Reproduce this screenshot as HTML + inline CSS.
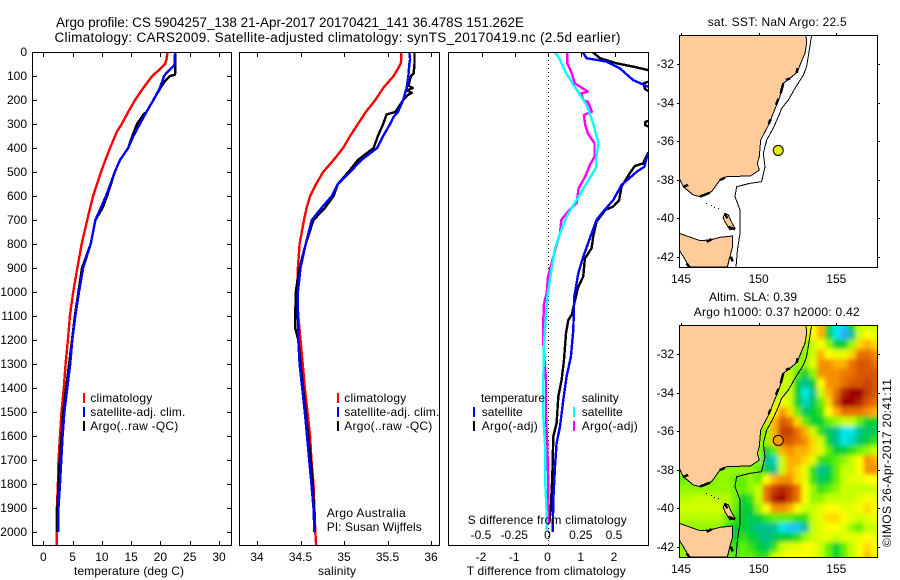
<!DOCTYPE html>
<html lang="en">
<head>
<meta charset="utf-8">
<title>Argo profile</title>
<style>
html,body{margin:0;padding:0;background:#fff;}
svg{display:block;}
text{font-family:"Liberation Sans",sans-serif;font-size:12px;fill:#000;}
</style>
</head>
<body>
<svg id="chart" xmlns="http://www.w3.org/2000/svg" width="900" height="580" viewBox="0 0 900 580">
  <defs>
    <clipPath id="clipTemp"><rect x="32" y="52" width="200" height="494"/></clipPath>
    <clipPath id="clipSal"><rect x="239" y="52" width="201" height="494"/></clipPath>
    <clipPath id="clipDiff"><rect x="448" y="52" width="201" height="494"/></clipPath>
    <clipPath id="clipMapSst"><rect x="679" y="35" width="199" height="233"/></clipPath>
    <clipPath id="clipMapSla"><rect x="679" y="325" width="199" height="233"/></clipPath>
    <filter id="slaBlur" filterUnits="userSpaceOnUse" x="640" y="290" width="260" height="290"><feGaussianBlur stdDeviation="2.5"/></filter>
  </defs>
  <g id="layer"></g>
</svg>
<script>
// ---- profile data (depth in m, temperature in deg C, salinity) ----
const depthTicks = [0,100,200,300,400,500,600,700,800,900,1000,1100,1200,1300,1400,1500,1600,1700,1800,1900,2000];
const tempTicks = [0,5,10,15,20,25,30];
const salTicks = [34,34.5,35,35.5,36];
const salTickLabels = ["34","34.5","35","35.5","36"];
const diffTTicks = [-2,-1,0,1,2];
const diffSTickLabels = ["-0.5","-0.25","0","0.25","0.5"];
const diffSTicks = [-0.5,-0.25,0,0.25,0.5];

const climDepthT = [0,30,50,70,100,150,200,250,300,330,400,450,500,600,700,800,900,1000,1100,1200,1300,1400,1500,1600,1700,1800,1900,2000,2060];
const climTemp = [21.2,21.06,20.8,20.0,18.6,17.07,15.65,14.5,13.4,12.6,11.4,10.6,9.85,8.5,7.5,6.55,5.8,5.1,4.55,4.2,3.8,3.5,3.1,2.85,2.6,2.5,2.33,2.28,2.28];
const satDepthT = [0,50,60,80,100,150,200,250,300,350,400,450,500,600,700,800,900,1000,1100,1200,1300,1400,1500,1600,1700,1800,1900,2000];
const satTemp = [22.5,22.4,22.2,21.3,20.6,19.9,18.8,17.6,16.5,15.4,14.5,13.1,12.2,10.7,8.9,8.1,6.8,6.1,5.46,4.95,4.6,4.1,3.6,3.3,3.07,2.85,2.6,2.56];
const argoDepthT = [0,90,95,100,120,150,200,250,260,300,350,400,450,500,600,650,700,800,900,1000,1100,1200,1300,1400,1500,1600,1700,1800,1900,2000];
const argoTemp = [22.5,22.5,22.45,21.6,20.8,20,18.8,17.6,17.1,16,15.2,14.5,13.1,12.2,10.9,10.1,8.9,8.1,6.6,6.0,5.4,4.9,4.4,3.9,3.4,3.15,2.8,2.6,2.4,2.35];

const climDepthS = [0,30,50,70,100,150,200,250,300,350,400,450,500,550,600,650,700,800,900,1000,1100,1200,1300,1400,1500,1600,1700,1800,1900,2000,2060];
const climSal = [35.66,35.66,35.65,35.62,35.57,35.45,35.36,35.25,35.16,35.07,34.99,34.88,34.76,34.68,34.61,34.57,34.54,34.49,34.47,34.46,34.475,34.5,34.525,34.55,34.58,34.61,34.625,34.65,34.66,34.67,34.68];
const satDepthS = [0,30,50,100,150,200,250,270,300,350,400,450,500,550,600,650,700,800,900,1000,1100,1200,1300,1400,1500,1600,1700,1800,1900,2000];
const satSal = [35.75,35.76,35.75,35.74,35.72,35.68,35.62,35.57,35.53,35.45,35.38,35.2,35.07,34.93,34.86,34.74,34.63,34.56,34.5,34.47,34.47,34.475,34.49,34.52,34.55,34.575,34.6,34.625,34.65,34.66];
const argoDepthS = [0,50,90,100,140,150,160,170,180,200,250,260,300,350,400,450,500,550,600,650,700,800,900,1000,1100,1150,1200,1300,1400,1500,1600,1700,1800,1900,2000];
const argoSal = [35.81,35.81,35.8,35.77,35.74,35.79,35.72,35.78,35.73,35.68,35.59,35.49,35.45,35.39,35.34,35.16,35.05,34.93,34.88,34.78,34.65,34.56,34.49,34.445,34.44,34.44,34.475,34.5,34.53,34.56,34.59,34.62,34.64,34.655,34.665];

const diffSatDepthT = [0,26,40,68,117,144,200,300,400,422,478,500,554,617,665,700,776,853,922,1019,1158,1269,1352,1450,1561,1630,1727,1866,2000];
const diffSatT = [1.04,1.16,1.76,2.16,2.56,3.0,3.6,3.9,3.2,3.0,2.9,2.66,2.21,1.96,1.66,1.46,1.26,1.06,0.91,0.79,0.76,0.69,0.56,0.46,0.36,0.26,0.21,0.16,0.14];
const diffArgoDepthT = [0,26,47,61,75,100,122,130,145,155,165,250,285,292,305,312,380,422,464,475,505,561,617,644,658,707,769,818,860,936,978,1096,1117,1172,1283,1366,1436,1547,1602,1769,1908,1964];
const diffArgoT = [1.34,1.56,2.06,2.56,3.0,3.3,3.05,2.88,2.9,2.92,3.05,3.5,3.05,2.92,2.92,3.05,3.4,3.0,2.86,2.61,2.46,2.21,2.14,1.96,1.73,1.46,1.36,1.31,1.11,1.06,0.91,0.71,0.61,0.54,0.48,0.41,0.31,0.26,0.16,0.13,0.08,0.04];
const diffSatDepthS = [0,26,82,144,221,297,380,450,478,547,630,686,755,825,894,1019,1089,1214,1366,1519,1658,1797,1922,1992];
const diffSatS = [0.05,0.085,0.13,0.2,0.29,0.34,0.38,0.36,0.365,0.29,0.2,0.14,0.09,0.05,0.03,-0.005,-0.015,-0.03,-0.035,-0.035,-0.02,-0.02,-0.01,-0.01];
const diffArgoDepthS = [0,47,89,130,165,172,200,207,249,262,304,339,380,436,471,519,568,630,665,700,755,853,936,1005,1047,1117,1214,1366,1519,1644,1797,1922,1964];
const diffArgoS = [0.145,0.145,0.18,0.2,0.3,0.25,0.265,0.3,0.33,0.27,0.28,0.3,0.35,0.35,0.315,0.28,0.23,0.215,0.15,0.1,0.09,0.04,0,-0.01,-0.03,-0.035,-0.035,-0.015,-0.015,-0.005,0.0025,0.0025,0.0025];

// ---- map data (lon, lat) ----
const mapLonTicks = [145,150,155];
const mapLatTicks = [-32,-34,-36,-38,-40,-42];
const floatLon = 151.262;
const floatLat = -36.478;
const mainlandCoast = [[153.05,-30.51],[153.09,-30.93],[152.98,-31.45],[152.66,-32.05],[152.51,-32.40],[152.02,-32.74],[151.59,-33.0],[151.37,-33.69],[151.16,-34.12],[150.94,-34.55],[150.69,-35.07],[150.30,-35.68],[150.13,-35.94],[150.04,-36.80],[149.91,-37.15],[150.04,-37.49],[149.48,-37.80],[147.94,-37.84],[147.51,-38.01],[146.97,-38.61],[146.22,-38.87],[145.79,-38.79],[145.15,-38.36],[144.89,-37.92],[144.89,-30.51]];
const tasmaniaCoast = [[144.89,-40.77],[145.79,-41.03],[146.22,-41.15],[146.87,-41.12],[147.51,-40.98],[148.33,-40.91],[148.33,-41.46],[148.15,-41.98],[147.98,-42.52],[145.54,-42.52],[145.15,-41.98],[144.89,-41.64]];
const flindersCoast = [[147.83,-39.74],[148.05,-39.82],[148.26,-40.2],[148.48,-40.51],[148.15,-40.60],[147.85,-40.2],[147.72,-39.95]];
const isobath = [[153.41,-30.51],[153.26,-31.27],[153.09,-32.14],[152.88,-32.57],[152.34,-33.26],[151.91,-33.87],[151.48,-34.30],[151.27,-34.73],[150.94,-35.33],[150.52,-35.94],[150.30,-36.63],[150.41,-37.32],[150.19,-38.10],[149.44,-38.18],[148.58,-38.36],[148.48,-38.87],[148.80,-39.56],[148.80,-40.77],[148.63,-41.64],[148.54,-42.52]];
const coastThick = [[[151.59,-33.0],[151.42,-33.52]],[[151.27,-33.81],[151.12,-34.12]],[[152.51,-32.22],[152.45,-32.45]],[[152.02,-32.74],[151.76,-32.83]],[[150.77,-34.87],[150.64,-35.11]],[[147.51,-38.01],[147.83,-37.89]],[[146.22,-38.87],[146.87,-38.67]],[[145.15,-38.36],[145.47,-38.27]],[[146.65,-41.21],[146.97,-41.08]],[[148.22,-41.98],[148.33,-42.24]],[[148.05,-40.43],[148.48,-40.57]],[[147.83,-39.74],[147.98,-40.0]],[[145.36,-42.33],[145.54,-42.52]]];
const bassIslands = [[146.6,-39.2],[146.9,-39.3],[147.1,-39.4],[147.4,-39.45]];

// ---- sea level anomaly heat map (colour index 0..10) ----
const slaLon0 = 145;
const slaLat0 = -30.5;
const slaStep = 0.5;
const slaGrid = [
[5,5,5,5,5,5,5,5,5,5,5,5,5,5,5,5,5,6,7,3,1,0.5,3,5,5,5],
[5,5,5,5,5,5,5,5,5,5,5,5,5,5,5,5,5,6,7,3,1,0,2,5,6,5.5],
[4,4,4,4,4,4,4,4,4,4,4,4,4,4,4,4,4.5,5,6,4.5,3,3,4.5,6.5,7,6.5],
[4,4,4,4,4,4,4,4,4,4,4,4,4,4,4,4,4.5,5,7,6,5.5,5.5,6.5,8,8,7.5],
[4.5,4.5,4.5,4.5,4.5,4.5,4.5,4.5,4.5,4.5,4.5,4.5,4.5,4.5,4.5,4.5,4.5,5.5,7.5,7.5,7,7,8,8.5,8.5,8],
[5,5,5,5,5,5,5,5,5,5,5,5,5,5,5,4,3,4.5,7.5,7.5,7.5,7.8,8,8.5,8.5,8.5],
[5,5,5,5,5,5,5,5,5,5,5,5,5,5,5,3,2,3,6,7.5,7.5,8,8.5,8.5,9,8.5],
[5,5,5,5,5,5,5,5,5,5,5,5,5,5,5,3,1,2,5,7,8,9.5,10,10,9,8.5],
[5,5,5,5,5,5,5,5,5,5,5,5,5,6,5,3,1.5,2.5,4,6.5,8.5,10,10,9.5,8.5,8],
[5,5,5,5,5,5,5,5,5,5,5,5,6,7.5,6.5,4,2.5,3,3.5,6,7,8,8,8,7.5,7],
[5,5,5,5,5,5,5,5,5,5,5,5,7,8.5,8,6.5,4,3,3,4,4.5,5,5,4,3,3],
[4.5,4.5,4.5,4.5,4.5,4.5,4.5,4.5,4.5,4.5,4.5,4.5,7,9,9,8,7,5,3.5,2.5,2,1,1,2,2.5,2.5],
[4,4,4,4,4,4,4,4,4,4,4.5,4.5,7,8.5,8.5,8,7.5,6.5,5,3,2,1,1.5,2.5,3,3.5],
[4,4,4,4,4,4,4,4,4,4,4.5,3,4,7,7.5,7,7,6.5,5.5,4,3,3,3.5,4,4.5,5],
[4,4,4,4,4,4,4,4,4,4,4.5,2,1.5,5,7,7,6.5,5.5,3.5,3.5,4,4.5,5,6,7.5,7],
[4.5,4.5,4.5,4.5,4.5,4.5,4.5,4.5,4.5,4.5,4,3,2,5,7,6.5,5.5,3.5,2,2.5,4,5,5,6,7.5,7.5],
[4,4.2,4.2,4.2,4.2,4.5,4.5,4,4,4.5,4,6,7,7.5,7.5,6.5,5.5,3.5,2.5,3,4,5,5.5,5.5,6,6],
[4.5,4.5,4.5,4.5,4.5,4.5,4.5,4.2,4,4.5,5,8,9,9.5,9,8,6,4.5,3.5,4,4.5,5,5,5,5,5],
[4.8,4.8,5,5,5,4.8,4.8,4.2,3,3.5,5,8,9.5,10,9,8,6,4.5,4.5,5,5,5,5,5.5,6,5.5],
[5.2,5.2,5.2,5.2,5.2,5.2,4.8,4,3,3,4.5,6,7.5,7.5,7,6,5,5,5.5,6,6,5.5,5.5,6,6.5,6],
[4.8,4.8,4.8,4.8,4.8,4.8,4.2,3.5,3,2.5,3,3.5,4,4,4,3.5,3.5,5,5.5,6.5,6.5,6,5.5,5,5.5,5.5],
[4.5,4.5,4.5,4.5,4.5,4.5,3.5,3,3,2.5,2,2,2,1,0.5,0.5,2,5,5.5,6,6,5.5,4.5,4,5,5],
[4.5,4.5,4.5,4.5,4.5,4.5,3.5,3,3.5,3,2.5,2,2.5,3,3,3.5,4.5,5,5.5,5.5,5,5.5,5.5,5.5,6,5.5],
[4.5,4.5,4.5,4.5,4.5,4.5,4,3.5,4,3.5,3,2.5,3.5,5,5.5,5.5,6,6,5,4,3,4,5,6,6.5,6],
[4.5,4.5,4.5,4.5,4.5,4.5,4,4,4,4,3.5,3.5,5,5.5,6,6,6,5.5,5,4,3,4,5,6,7,6]
];
const slaColorStops = ["#30a8ff","#00e8e8","#00c090","#00d030","#60f000","#c8ff00","#ffff00","#ffb000","#e87000","#c84000","#a00000"];

// ---- axis functions ----
const yDepth = d => 52 + d * 0.24;
const xTemp = v => 43.3 + v * 5.857;
const xSal = v => 257 + (v - 34) * 87;
const xDiffT = v => 548 + v * 33.25;
const xDiffS = v => 548 + v * 133;
const xLon = lon => 681 + (lon - 145) * 15.53;
const yLatSst = lat => 64 - (lat + 32) * 19.3;
const yLatSla = lat => 354 - (lat + 32) * 19.3;

const NS = "http://www.w3.org/2000/svg";
const layer = document.getElementById("layer");

function mk(tag, attrs, parent) {
  const el = document.createElementNS(NS, tag);
  for (const k in attrs) el.setAttribute(k, attrs[k]);
  (parent || layer).appendChild(el);
  return el;
}
function group(name, parent, clip) {
  const g = mk("g", clip ? {"clip-path": "url(#" + clip + ")"} : {}, parent);
  
  
  return g;
}
function label(str, x, y, name, opts) {
  opts = opts || {};
  const a = {x: x, y: y};
  if (opts.anchor) a["text-anchor"] = opts.anchor;
  if (opts.len) { a.textLength = opts.len; a.lengthAdjust = "spacing"; }
  if (opts.rotate) a.transform = "rotate(" + opts.rotate + " " + x + " " + y + ")";
  if (opts.size) a.style = "font-size:" + opts.size + "px";
  const el = mk("text", a, opts.parent);
  el.textContent = str;
  
  
  return el;
}
function frame(x, y, w, h, name, parent) {
  const el = mk("rect", {x: x, y: y, width: w, height: h, fill: "none", stroke: "#000", "stroke-width": 1, "shape-rendering": "crispEdges"}, parent);
  
  
}
function tick(x1, y1, x2, y2, parent) {
  const el = mk("line", {x1: x1, y1: y1, x2: x2, y2: y2, stroke: "#000", "stroke-width": 1, "shape-rendering": "crispEdges"}, parent);
  
  
}
function series(xs, depths, xFn, color, name, parent, width) {
  const pts = depths.map((d, i) => xFn(xs[i]).toFixed(1) + "," + yDepth(d).toFixed(1)).join(" ");
  const el = mk("polyline", {points: pts, fill: "none", stroke: color, "stroke-width": width || 2.4, "stroke-linejoin": "round", "shape-rendering": "crispEdges"}, parent);
  
  
}
function swatch(x, y, color, name, parent) {
  const el = mk("rect", {x: x, y: y, width: 2, height: 10, fill: color, "shape-rendering": "crispEdges"}, parent);
  
  
}

// ---- titles ----
const titles = group("figure-title");
label("Argo profile: CS 5904257_138 21-Apr-2017 20170421_141 36.478S 151.262E", 56, 27, "title-line-1", {len: 468, size: 13.5, parent: titles});
label("Climatology: CARS2009. Satellite-adjusted climatology: synTS_20170419.nc (2.5d earlier)", 54.5, 42, "title-line-2", {len: 566, size: 13.5, parent: titles});

// ---- temperature panel ----
const tPanel = group("temperature-panel");
const tLines = group("temperature-series", tPanel, "clipTemp");
series(climTemp, climDepthT, xTemp, "#ff0000", "temperature-climatology-line", tLines);
series(argoTemp, argoDepthT, xTemp, "#000000", "temperature-argo-line", tLines);
series(satTemp, satDepthT, xTemp, "#0000ff", "temperature-satellite-line", tLines);
frame(32.5, 52.5, 199, 493, "temperature-plot-frame", tPanel);
depthTicks.forEach(d => {
  const y = Math.round(yDepth(d)) + 0.5;
  tick(32, y, 37, y, tPanel);
  tick(227, y, 231, y, tPanel);
  label(String(d), 27, Math.round(yDepth(d)) + 4, "depth-tick-label", {anchor: "end", parent: tPanel});
});
tempTicks.forEach(v => {
  const x = Math.round(xTemp(v)) + 0.5;
  tick(x, 52, x, 57, tPanel);
  tick(x, 541, x, 546, tPanel);
  label(String(v), xTemp(v), 561, "temperature-tick-label", {anchor: "middle", parent: tPanel});
});
label("temperature (deg C)", 74, 575, "temperature-axis-title", {len: 110, parent: tPanel});
swatch(83, 393, "#ff0000", "legend-swatch-climatology", tPanel);
swatch(83, 407, "#0000ff", "legend-swatch-satellite", tPanel);
swatch(83, 421, "#000000", "legend-swatch-argo", tPanel);
label("climatology", 90.3, 402, "legend-climatology", {len: 62, parent: tPanel});
label("satellite-adj. clim.", 90.3, 416, "legend-satellite", {len: 95, parent: tPanel});
label("Argo(..raw -QC)", 90.3, 430, "legend-argo", {len: 88, parent: tPanel});

// ---- salinity panel ----
const sPanel = group("salinity-panel");
const sLines = group("salinity-series", sPanel, "clipSal");
series(climSal, climDepthS, xSal, "#ff0000", "salinity-climatology-line", sLines);
series(argoSal, argoDepthS, xSal, "#000000", "salinity-argo-line", sLines);
series(satSal, satDepthS, xSal, "#0000ff", "salinity-satellite-line", sLines);
frame(239.5, 52.5, 200, 493, "salinity-plot-frame", sPanel);
salTicks.forEach((v, i) => {
  const x = Math.round(xSal(v)) + 0.5;
  tick(x, 52, x, 57, sPanel);
  tick(x, 541, x, 546, sPanel);
  label(salTickLabels[i], xSal(v), 561, "salinity-tick-label", {anchor: "middle", parent: sPanel});
});
label("salinity", 318, 575, "salinity-axis-title", {len: 38, parent: sPanel});
swatch(337, 393, "#ff0000", "legend-swatch-climatology", sPanel);
swatch(337, 407, "#0000ff", "legend-swatch-satellite", sPanel);
swatch(337, 421, "#000000", "legend-swatch-argo", sPanel);
label("climatology", 344.3, 402, "legend-climatology", {len: 62, parent: sPanel});
label("satellite-adj. clim.", 344.3, 416, "legend-satellite", {len: 95, parent: sPanel});
label("Argo(..raw -QC)", 344.3, 430, "legend-argo", {len: 88, parent: sPanel});
label("Argo Australia", 326.7, 517, "credit-argo-australia", {len: 79, parent: sPanel});
label("PI: Susan Wijffels", 326.7, 531, "credit-pi", {len: 95, parent: sPanel});

// ---- difference panel ----
const dPanel = group("difference-panel");
const zero = mk("line", {x1: 548.5, y1: 52, x2: 548.5, y2: 546, stroke: "#000", "stroke-width": 1, "stroke-dasharray": "1 3", "shape-rendering": "crispEdges"}, dPanel);


const dLines = group("difference-series", dPanel, "clipDiff");
series(diffArgoT, diffArgoDepthT, xDiffT, "#000000", "t-diff-argo-line", dLines);
series(diffSatT, diffSatDepthT, xDiffT, "#0000ff", "t-diff-satellite-line", dLines);
series(diffArgoS, diffArgoDepthS, xDiffS, "#ff00ff", "s-diff-argo-line", dLines);
series(diffSatS, diffSatDepthS, xDiffS, "#00ffff", "s-diff-satellite-line", dLines);
frame(448.5, 52.5, 200, 493, "difference-plot-frame", dPanel);
diffTTicks.forEach(v => {
  const x = Math.round(xDiffT(v)) + 0.5;
  tick(x, 52, x, 57, dPanel);
  label(String(v), xDiffT(v) - 0.5, 561, "t-diff-tick-label", {anchor: "middle", parent: dPanel});
});
diffSTicks.forEach((v, i) => {
  label(diffSTickLabels[i], xDiffS(v) - 0.5, 539, "s-diff-tick-label", {anchor: "middle", parent: dPanel});
});
label("S difference from climatology", 467.7, 524, "s-diff-axis-title", {len: 159, parent: dPanel});
label("T difference from climatology", 466.7, 575, "t-diff-axis-title", {len: 159, parent: dPanel});
label("temperature", 481, 402, "legend-temperature-heading", {len: 64, parent: dPanel});
label("satellite", 481.7, 416, "legend-t-satellite", {len: 41, parent: dPanel});
label("Argo(-adj)", 481.7, 430, "legend-t-argo", {len: 56, parent: dPanel});
label("salinity", 581.7, 402, "legend-salinity-heading", {len: 37, parent: dPanel});
label("satellite", 581.7, 416, "legend-s-satellite", {len: 41, parent: dPanel});
label("Argo(-adj)", 581.7, 430, "legend-s-argo", {len: 56, parent: dPanel});
swatch(473, 407, "#0000ff", "legend-swatch-t-satellite", dPanel);
swatch(473, 421, "#000000", "legend-swatch-t-argo", dPanel);
swatch(573, 407, "#00ffff", "legend-swatch-s-satellite", dPanel);
swatch(573, 421, "#ff00ff", "legend-swatch-s-argo", dPanel);

// ---- maps ----
function polyPts(list, yFn) {
  return list.map(p => xLon(p[0]).toFixed(1) + "," + yFn(p[1]).toFixed(1)).join(" ");
}
function drawLand(parent, yFn) {
  [["mainland", mainlandCoast], ["tasmania", tasmaniaCoast], ["flinders-island", flindersCoast]].forEach(item => {
    const el = mk("polygon", {points: polyPts(item[1], yFn), fill: "#ffcc99", stroke: "#000", "stroke-width": 1, "shape-rendering": "crispEdges"}, parent);
    
    
  });
  coastThick.forEach(seg => {
    const el = mk("polyline", {points: polyPts(seg, yFn), fill: "none", stroke: "#000", "stroke-width": 2.5, "shape-rendering": "crispEdges"}, parent);
    
    
  });
  bassIslands.forEach(p => {
    const el = mk("rect", {x: Math.round(xLon(p[0])), y: Math.round(yFn(p[1])), width: 1, height: 1, fill: "#000"}, parent);
    
    
  });
  const iso = mk("polyline", {points: polyPts(isobath, yFn), fill: "none", stroke: "#000", "stroke-width": 1, "shape-rendering": "crispEdges"}, parent);
  
  
}
function mapAxes(parent, top, yFn, labelY) {
  mapLonTicks.forEach(lon => {
    const x = Math.round(xLon(lon)) + 0.5;
    tick(x, top - 2, x, top + 0.5, parent);
    label(String(lon), xLon(lon), labelY, "map-longitude-label", {anchor: "middle", parent: parent});
  });
  mapLatTicks.forEach(lat => {
    const y = Math.round(yFn(lat)) + 0.5;
    tick(677, y, 679.5, y, parent);
    tick(877.5, y, 880, y, parent);
    label(String(lat), 674, Math.round(yFn(lat)) + 4, "map-latitude-label", {anchor: "end", parent: parent});
  });
}
function slaColor(v) {
  const c = Math.max(0, Math.min(10, v));
  const i = Math.min(9, Math.floor(c));
  const f = c - i;
  const hex = s => [1, 3, 5].map(k => parseInt(s.substr(k, 2), 16));
  const a = hex(slaColorStops[i]);
  const b = hex(slaColorStops[i + 1]);
  return "rgb(" + a.map((q, k) => Math.round(q + (b[k] - q) * f)).join(",") + ")";
}
function marker(parent, yFn, color, name) {
  const el = mk("circle", {cx: xLon(floatLon), cy: yFn(floatLat), r: 5, fill: color, stroke: "#000", "stroke-width": 1}, parent);
  
  
}

// SST map
const sstMap = group("sst-map");
label("sat. SST: NaN Argo: 22.5", 707.7, 26, "sst-map-title", {len: 139, parent: sstMap});
const sstBody = group("sst-map-body", sstMap, "clipMapSst");
drawLand(sstBody, yLatSst);
marker(sstBody, yLatSst, "#e0f000", "argo-float-marker");
frame(679.5, 35.5, 198, 232, "sst-map-frame", sstMap);
mapAxes(sstMap, 35, yLatSst, 283);

// SLA map
const slaMap = group("sla-map");
label("Altim. SLA: 0.39", 709, 301, "sla-map-title-line-1", {len: 88, parent: slaMap});
label("Argo h1000: 0.37 h2000: 0.42", 693.7, 316, "sla-map-title-line-2", {len: 166, parent: slaMap});
const slaBody = group("sla-map-body", slaMap, "clipMapSla");
const heat = group("sla-heatmap", slaBody);
heat.setAttribute("filter", "url(#slaBlur)");
const nRows = slaGrid.length;
slaGrid.forEach((row, r) => {
  const nCols = row.length;
  row.forEach((v, c) => {
    const lonC = slaLon0 + c * slaStep;
    const latC = slaLat0 - r * slaStep;
    let x0 = xLon(lonC - slaStep / 2), x1 = xLon(lonC + slaStep / 2);
    let y0 = yLatSla(latC + slaStep / 2), y1 = yLatSla(latC - slaStep / 2);
    if (c === 0) x0 -= 14;
    if (c === nCols - 1) x1 += 14;
    if (r === 0) y0 -= 14;
    if (r === nRows - 1) y1 += 14;
    const cell = mk("rect", {x: x0.toFixed(1), y: y0.toFixed(1), width: (x1 - x0 + 0.6).toFixed(1), height: (y1 - y0 + 0.6).toFixed(1), fill: slaColor(v)}, heat);
    
    
  });
});
drawLand(slaBody, yLatSla);
marker(slaBody, yLatSla, "#ff9c00", "argo-float-marker");
frame(679.5, 325.5, 198, 232, "sla-map-frame", slaMap);
mapAxes(slaMap, 325, yLatSla, 573);
label("©IMOS 26-Apr-2017 20:41:11", 891, 547, "imos-timestamp", {len: 168, rotate: -90});
</script>
</body>
</html>
